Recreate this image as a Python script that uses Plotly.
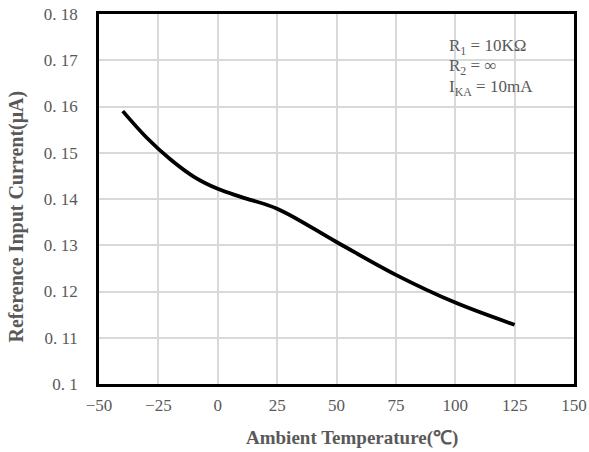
import plotly.graph_objects as go

temps = [-40, -30, -20, -10, 0, 10, 25, 50, 75, 100, 125]
current = [0.1590, 0.1533, 0.1486, 0.1448, 0.1422, 0.1404, 0.1379, 0.1307, 0.1236, 0.1176, 0.1128]

x_ticks = [-50, -25, 0, 25, 50, 75, 100, 125, 150]
x_ticklabels = ["\u221250", "\u221225", "0", "25", "50", "75", "100", "125", "150"]
y_ticks = [0.10, 0.11, 0.12, 0.13, 0.14, 0.15, 0.16, 0.17, 0.18]
y_ticklabels = ["0. 1", "0. 11", "0. 12", "0. 13", "0. 14", "0. 15", "0. 16", "0. 17", "0. 18"]
note_lines = ["R<sub>1</sub> = 10K\u03a9", "R<sub>2</sub> = \u221e", "I<sub>KA</sub> = 10mA"]
x_title = "<b>Ambient Temperature(\u2103)</b>"
y_title = "<b>Reference Input Current(\u03bcA)</b>"

font_family = "Liberation Serif, Times New Roman, serif"
gray = "#595959"

fig = go.Figure()
fig.add_trace(go.Scatter(x=temps, y=current, mode="lines",
                         line=dict(color="black", width=3.8, shape="spline", smoothing=1.0),
                         showlegend=False, hoverinfo="skip"))

fig.update_layout(
    width=589, height=452,
    margin=dict(l=99, r=15, t=14, b=68),
    paper_bgcolor="white", plot_bgcolor="white",
    font=dict(family=font_family, color=gray, size=17),
    xaxis=dict(range=[-50, 150], tickvals=x_ticks, ticktext=x_ticklabels,
               showgrid=True, gridcolor="#d9d9d9", gridwidth=1.5,
               showline=True, linecolor="black", linewidth=2.5, mirror=True,
               ticks="", zeroline=False, automargin=False, ticklabelstandoff=4,
               tickfont=dict(size=17, color=gray)),
    yaxis=dict(range=[0.10, 0.18], tickvals=y_ticks, ticktext=y_ticklabels,
               showgrid=True, gridcolor="#d9d9d9", gridwidth=1.5,
               showline=True, linecolor="black", linewidth=2.5, mirror=True,
               ticks="", zeroline=False, automargin=False, ticklabelstandoff=15,
               tickfont=dict(size=17, color=gray)),
)

# axis titles (offset like the reference)
fig.add_annotation(xref="paper", yref="paper", x=0.532, y=-0.146, xanchor="center", yanchor="middle",
                   text=x_title, showarrow=False, font=dict(family=font_family, size=19, color=gray))
fig.add_annotation(xref="paper", yref="paper", x=-0.1747, y=0.4527, xanchor="center", yanchor="middle",
                   text=y_title, showarrow=False, textangle=-90,
                   font=dict(family=font_family, size=20, color=gray))

# white box behind the note (hides grid lines)
fig.add_shape(type="rect", xref="paper", yref="paper", x0=0.7137, x1=0.9432, y0=0.754, y1=0.943,
              fillcolor="white", line=dict(width=0), layer="between")

for txt, yp in zip(note_lines, [0.9108, 0.8568, 0.800]):
    fig.add_annotation(xref="paper", yref="paper", x=0.7326, y=yp, xanchor="left", yanchor="middle",
                       text=txt, showarrow=False, align="left",
                       font=dict(family=font_family, size=17, color=gray))

fig.write_html("out.html", config={"displayModeBar": False},
               post_script="document.body.style.margin='0';")
